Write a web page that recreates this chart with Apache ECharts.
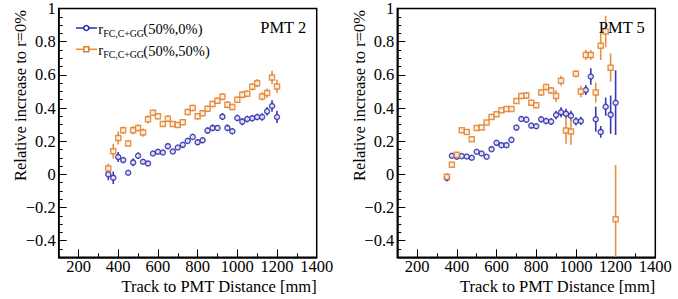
<!DOCTYPE html>
<html>
<head>
<meta charset="utf-8">
<script src="https://cdn.jsdelivr.net/npm/echarts@6/dist/echarts.min.js"></script>
<style>
html,body{margin:0;padding:0;background:#fff;}
#chart{width:678px;height:299px;}
</style>
</head>
<body>
<div id="chart"></div>
<script>
// ---------------- data ----------------
const distances = [350,375,400,425,450,475,500,525,550,575,600,625,650,675,700,725,750,775,800,825,850,875,900,925,950,975,1000,1025,1050,1075,1100,1125,1150,1175,1200];

const pmt2Blue = [0.00,-0.02,0.105,0.086,0.01,0.072,0.112,0.076,0.066,0.126,0.136,0.132,0.17,0.138,0.162,0.178,0.202,0.226,0.194,0.206,0.264,0.28,0.28,0.348,0.28,0.26,0.34,0.318,0.334,0.338,0.346,0.346,0.38,0.412,0.346];
const pmt2BlueErr = [0.036,0.038,0.03,0.015,0.012,0.023,0.02,0.015,0.015,0.015,0.015,0.015,0.018,0.015,0.015,0.015,0.015,0.018,0.018,0.018,0.018,0.02,0.018,0.02,0.02,0.018,0.02,0.022,0.02,0.02,0.02,0.022,0.025,0.035,0.037];
const pmt2Orange = [0.036,0.14,0.22,0.266,0.186,0.266,0.28,0.252,0.332,0.372,0.35,0.304,0.336,0.304,0.298,0.314,0.376,0.40,0.35,0.368,0.396,0.424,0.444,0.468,0.42,0.406,0.45,0.48,0.486,0.528,0.55,0.47,0.49,0.584,0.53];
const pmt2OrangeErr = [0.03,0.045,0.04,0.022,0.02,0.025,0.02,0.025,0.025,0.018,0.018,0.018,0.02,0.018,0.018,0.018,0.02,0.02,0.02,0.018,0.018,0.02,0.02,0.022,0.022,0.02,0.02,0.022,0.02,0.022,0.025,0.025,0.028,0.04,0.04];

const pmt5Blue = [-0.022,0.112,0.106,0.11,0.108,0.10,0.136,0.126,0.106,0.152,0.19,0.176,0.176,0.208,0.282,0.334,0.33,0.294,0.29,0.332,0.322,0.318,0.358,0.374,0.366,0.354,0.32,0.322,0.508,0.59,0.332,0.256,0.408,0.36,0.432];
const pmt5BlueErr = [0.02,0.015,0.015,0.012,0.012,0.012,0.012,0.012,0.012,0.014,0.014,0.014,0.014,0.015,0.015,0.018,0.018,0.015,0.015,0.02,0.02,0.02,0.025,0.03,0.03,0.03,0.025,0.025,0.03,0.05,0.075,0.035,0.055,0.115,0.195];
const pmt5Orange = [-0.014,0.058,0.118,0.266,0.256,0.212,0.28,0.282,0.312,0.346,0.362,0.386,0.394,0.394,0.442,0.472,0.476,0.432,0.416,0.494,0.526,0.506,0.472,0.564,0.264,0.258,0.606,0.50,0.72,0.72,0.494,0.775,0.862,0.643,-0.27];
const pmt5OrangeErr = [0.02,0.012,0.015,0.015,0.015,0.015,0.015,0.015,0.015,0.015,0.015,0.015,0.015,0.015,0.015,0.018,0.02,0.018,0.018,0.02,0.02,0.02,0.035,0.03,0.08,0.08,0.02,0.035,0.03,0.03,0.06,0.085,0.095,0.085,0.327];

const xMajorTicks = [200,400,600,800,1000,1200,1400];
const xMinorTicks = [100,300,500,700,900,1100,1300];
const yMajorTicks = [-0.4,-0.2,0,0.2,0.4,0.6,0.8,1];
const yMinorTicks = [-0.45,-0.35,-0.3,-0.25,-0.15,-0.1,-0.05,0.05,0.1,0.15,0.25,0.3,0.35,0.45,0.5,0.55,0.65,0.7,0.75,0.85,0.9,0.95];

const panelLabels = ['PMT 2','PMT 5'];
const legendNames = ['(50%,0%)','(50%,50%)'];
const xTitle = 'Track to PMT Distance [mm]';
const yTitle = 'Relative increase to r=0%';

// ---------------- style ----------------
const X_MIN = 100, X_MAX = 1400, Y_MIN = -0.5, Y_MAX = 1.0;
const FONT = 'Liberation Serif';
const FS = 16.5;
const BLUE = '#2626a8', BLUE_ERR = '#3838b6';
const ORANGE = '#e07b20', ORANGE_ERR = '#e79042';
const GRID_TOP = 8.5, GRID_H = 248.8, GRID_W = 258;
const gridLefts = [58.7, 397.3];

const chart = echarts.init(document.getElementById('chart'), null, {renderer: 'svg'});

function fmtY(v){
  if (Math.abs(v) < 1e-9) return '0';
  const s = String(Math.round(Math.abs(v)*10)/10);
  return (v < 0 ? '\u2212' : '') + s;
}
function fmtX(v){ return String(Math.round(v)); }

const grids = [], xAxes = [], yAxes = [], series = [];
gridLefts.forEach((left, gi) => {
  grids.push({left: left, top: GRID_TOP, width: GRID_W, height: GRID_H, show: true,
    borderColor: '#000', borderWidth: 1.5, backgroundColor: 'transparent', containLabel: false});
  xAxes.push({gridIndex: gi, type: 'value', min: X_MIN, max: X_MAX,
    axisLine: {show: true, onZero: false, lineStyle: {color: '#000', width: 1.5}},
    axisTick: {show: true, inside: true, length: 8, customValues: xMajorTicks, lineStyle: {color: '#000', width: 1}},
    axisLabel: {show: true, customValues: xMajorTicks, margin: 1, formatter: fmtX, color: '#000', fontFamily: FONT, fontSize: FS},
    splitLine: {show: false}});
  xAxes.push({gridIndex: gi, type: 'value', min: X_MIN, max: X_MAX, position: 'bottom',
    axisLine: {show: false, onZero: false},
    axisTick: {show: true, inside: true, length: 4, customValues: xMinorTicks, lineStyle: {color: '#000', width: 1}},
    axisLabel: {show: false}, splitLine: {show: false}});
  yAxes.push({gridIndex: gi, type: 'value', min: Y_MIN, max: Y_MAX,
    axisLine: {show: true, onZero: false, lineStyle: {color: '#000', width: 1.5}},
    axisTick: {show: true, inside: true, length: 8, customValues: yMajorTicks, lineStyle: {color: '#000', width: 1}},
    axisLabel: {show: true, customValues: yMajorTicks, margin: 3, formatter: fmtY, color: '#000', fontFamily: FONT, fontSize: FS},
    splitLine: {show: false}});
  yAxes.push({gridIndex: gi, type: 'value', min: Y_MIN, max: Y_MAX, position: 'left',
    axisLine: {show: false, onZero: false},
    axisTick: {show: true, inside: true, length: 4, customValues: yMinorTicks, lineStyle: {color: '#000', width: 1}},
    axisLabel: {show: false}, splitLine: {show: false}});
});

function errSeries(xi, yi, vals, errs, color){
  return {
    type: 'custom', xAxisIndex: xi, yAxisIndex: yi, z: 2, silent: true, clip: true,
    data: distances.map((d, i) => [d, vals[i], errs[i]]),
    renderItem: function(params, api){
      const x = api.value(0), y = api.value(1), e = api.value(2);
      const lo = Math.max(y - e, Y_MIN), hi = Math.min(y + e, Y_MAX);
      const p1 = api.coord([x, lo]), p2 = api.coord([x, hi]);
      return {type: 'line', shape: {x1: p1[0], y1: p1[1], x2: p2[0], y2: p2[1]},
        style: {stroke: color, lineWidth: 1.6}};
    }
  };
}
function markSeries(xi, yi, vals, symbol, color, size){
  return {
    type: 'scatter', xAxisIndex: xi, yAxisIndex: yi, z: 3, silent: true,
    symbol: symbol, symbolSize: size,
    itemStyle: {color: '#fff', borderColor: color, borderWidth: 1.5},
    data: distances.map((d, i) => [d, vals[i]])
  };
}

const panels = [
  {blue: pmt2Blue, blueErr: pmt2BlueErr, orange: pmt2Orange, orangeErr: pmt2OrangeErr},
  {blue: pmt5Blue, blueErr: pmt5BlueErr, orange: pmt5Orange, orangeErr: pmt5OrangeErr}
];
panels.forEach((p, gi) => {
  const xi = gi * 2, yi = gi * 2;
  series.push(errSeries(xi, yi, p.blue, p.blueErr, BLUE_ERR));
  series.push(markSeries(xi, yi, p.blue, 'circle', BLUE, 5));
  series.push(errSeries(xi, yi, p.orange, p.orangeErr, ORANGE_ERR));
  series.push(markSeries(xi, yi, p.orange, 'rect', ORANGE, 5));
});

// ---------------- text / legend graphics ----------------
function txt(x, y, text, size, align, extra){
  return Object.assign({type: 'text', x: x, y: y, z: 10,
    style: {text: text, fontFamily: FONT, fontSize: size, fill: '#000', align: align, verticalAlign: 'middle'}}, extra || {});
}
const graphics = [];
gridLefts.forEach((left, gi) => {
  const right = left + GRID_W;
  graphics.push(txt(right, 286, xTitle, FS, 'right'));
  graphics.push(txt(left - 38, 10, yTitle, FS, 'right', {rotation: Math.PI / 2}));
  graphics.push(txt(left + 201.5, 27.5, panelLabels[gi], FS, 'left'));
});
const legRows = [{y: 28, color: BLUE, errColor: BLUE_ERR, shape: 'circle', name: legendNames[0]},
                 {y: 49.3, color: ORANGE, errColor: ORANGE_ERR, shape: 'rect', name: legendNames[1]}];
legRows.forEach(r => {
  graphics.push({type: 'line', z: 10, shape: {x1: 76, y1: r.y, x2: 97, y2: r.y}, style: {stroke: r.errColor, lineWidth: 1.6}});
  if (r.shape === 'circle') {
    graphics.push({type: 'circle', z: 11, shape: {cx: 86.3, cy: r.y, r: 2.5}, style: {fill: '#fff', stroke: r.color, lineWidth: 1.5}});
  } else {
    graphics.push({type: 'rect', z: 11, shape: {x: 83.8, y: r.y - 2.5, width: 5, height: 5}, style: {fill: '#fff', stroke: r.color, lineWidth: 1.5}});
  }
  graphics.push(txt(98.3, r.y + 1, 'r', 14.5, 'left'));
  graphics.push(txt(103.3, r.y + 5, 'FC,C+GG', 9.8, 'left'));
  graphics.push(txt(143.3, r.y + 1.3, r.name, 14.5, 'left'));
});

chart.setOption({
  animation: false,
  backgroundColor: '#fff',
  grid: grids,
  xAxis: xAxes,
  yAxis: yAxes,
  series: series,
  graphic: graphics
});
</script>
</body>
</html>
